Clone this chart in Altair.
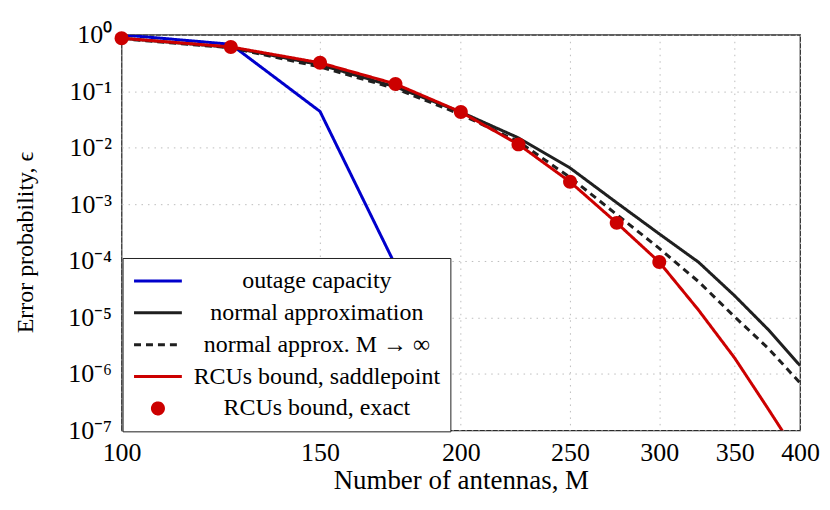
import altair as alt
import pandas as pd

# ---- data ----
M_grid = [100, 125, 150, 175, 200, 225, 250, 275, 300, 325, 350, 375, 400]
outage_M = [100, 125, 150, 175, 200]
outage = [1.0, 0.68, 0.044, 8.3e-5, 5e-9]
normal = [0.87, 0.60, 0.295, 0.12, 0.043, 1.5e-2, 4.4e-3, 1.07e-3, 3.0e-4,
          9.5e-5, 2.4e-5, 6.0e-6, 1.4e-6]
normal_inf = [0.85, 0.59, 0.27, 0.112, 0.039, 1.29e-2, 3.0e-3, 6.6e-4, 1.66e-4,
              4.3e-5, 1.02e-5, 2.8e-6, 6.9e-7]
saddle = [0.87, 0.61, 0.32, 0.135, 0.043, 1.15e-2, 2.5e-3, 4.7e-4, 9.5e-5,
          1.35e-5, 1.9e-6, 2.35e-7, 3.2e-8]
exact_M = [100, 125, 150, 175, 200, 225, 250, 275, 300]
exact = [0.87, 0.61, 0.32, 0.135, 0.043, 1.15e-2, 2.5e-3, 4.7e-4, 9.5e-5]

names = ["outage capacity", "normal approximation", "normal approx. M \u2192 \u221e",
         "RCUs bound, saddlepoint", "RCUs bound, exact"]
colors = ["#0000cc", "#1f1f1f", "#1f1f1f", "#cc0000", "#cc0000"]
dashes = [[1, 0], [1, 0], [7, 5], [1, 0], [1, 0]]
dot_path = "M-0.23,0A0.23,0.23 0 1,0 0.23,0A0.23,0.23 0 1,0 -0.23,0Z"
shapes = ["stroke", "stroke", "stroke", "stroke", dot_path]

x_ticks = [100, 150, 200, 250, 300, 350, 400]
y_ticks = [1, 1e-1, 1e-2, 1e-3, 1e-4, 1e-5, 1e-6, 1e-7]

FONT = "Liberation Serif"

def frame(ms, vals, name):
    return pd.DataFrame({"M": ms, "eps": vals, "series": name})

line_frames = [
    frame(outage_M, outage, names[0]),
    frame(M_grid, normal, names[1]),
    frame(M_grid, normal_inf, names[2]),
    frame(M_grid, saddle, names[3]),
]
dots = frame(exact_M, exact, names[4])

legend = alt.Legend(
    title=None, orient="none", legendX=1, legendY=224,
    labelFont=FONT, labelFontSize=24, labelColor="black", labelLimit=500,
    labelAlign="center", labelOffset=134,
    symbolSize=2304, symbolStrokeWidth=3, symbolOpacity=1,
    symbolFillColor="#cc0000",
    clipHeight=26, rowPadding=6, padding=10, symbolOffset=0,
    fillColor="white", strokeColor="#222222",
)

x = alt.X("M:Q",
          scale=alt.Scale(type="log", domain=[100, 400], nice=False),
          axis=alt.Axis(values=x_ticks, format="d", title="Number of antennas, M",
                        titleY=58, titleBaseline="alphabetic", titleFontSize=27,
                        labelFontSize=26,
                        labelPadding=9, labelFlush=False, labelOverlap=False))
y = alt.Y("eps:Q",
          scale=alt.Scale(type="log", domain=[1e-7, 1], nice=False),
          axis=alt.Axis(values=y_ticks, title="Error probability, \u03f5",
                        labelExpr="'10' + ['\u2070','\u207b\u00b9','\u207b\u00b2','\u207b\u00b3','\u207b\u2074','\u207b\u2075','\u207b\u2076','\u207b\u2077'][round(-log(datum.value)/LN10)]",
                        titleX=-89, titleY=208, titleBaseline="alphabetic",
                        titleFontSize=24, labelFontSize=26,
                        labelPadding=10, labelFlush=False, labelOverlap=False))

color = alt.Color("series:N", scale=alt.Scale(domain=names, range=colors), legend=legend)
dash = alt.StrokeDash("series:N", scale=alt.Scale(domain=names, range=dashes), legend=legend)
shape = alt.Shape("series:N", scale=alt.Scale(domain=names, range=shapes), legend=legend)

layers = []
for df in line_frames:
    layers.append(
        alt.Chart(df).mark_line(strokeWidth=3, clip=True).encode(
            x=x, y=y, color=color, strokeDash=dash)
    )
layers.append(
    alt.Chart(dots).mark_point(filled=True, size=3700, opacity=1, strokeWidth=0).encode(
        x=x, y=y, color=color, shape=shape)
)

chart = alt.layer(*layers).properties(
    width=681, height=397,
    autosize=alt.AutoSizeParams(type="none"),
    padding={"left": 114, "top": 26, "right": 22, "bottom": 70},
).configure_view(
    stroke="#2a2a2a", strokeWidth=1.3
).configure_axis(
    labelFont=FONT, titleFont=FONT, labelFontSize=25, titleFontSize=25,
    labelColor="black", titleColor="black", titleFontWeight="normal",
    ticks=False, domain=False,
    grid=True, gridColor="#bdbdbd", gridDash=[1.5, 5], gridWidth=1, gridOpacity=1,
)

chart.save("out.html", embed_options={"renderer": "svg", "actions": False})
